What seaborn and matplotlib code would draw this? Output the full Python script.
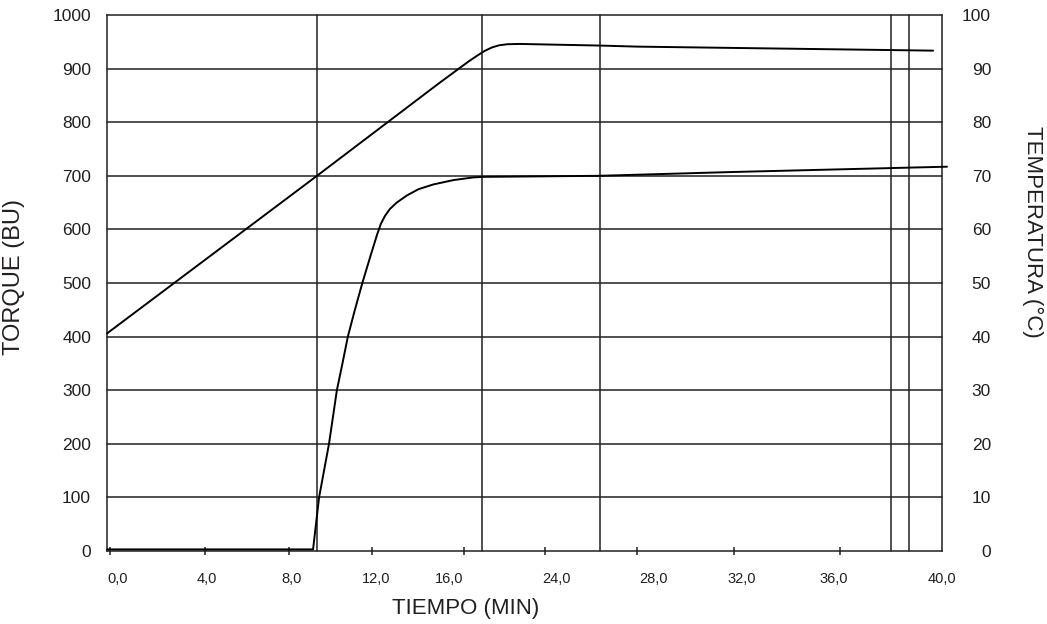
import matplotlib
matplotlib.use('Agg')
import matplotlib.pyplot as plt
import pandas as pd
import seaborn as sns

# tiempo on the chart's own scale (0..40 across the frame)
t_torque = [-0.14, 9.81, 10.10, 10.34, 10.58, 10.77, 10.96, 11.23, 11.49, 11.83,
            12.19, 12.58, 12.90, 13.08, 13.28, 13.52, 13.85, 14.33, 14.90,
            15.63, 16.59, 17.55, 17.98, 23.65, 30.0, 40.43]
torque = [3, 3, 100, 150, 200, 250, 300, 350, 400, 450,
          500, 550, 590, 610, 625, 638, 650, 663, 675,
          684, 692, 697, 698, 700, 707, 717]

t_temp = [-0.14, 10.0, 15.87, 17.31, 17.75, 18.1, 18.45, 18.8, 19.2, 19.8, 23.64, 25.48, 39.76]
temp = [40.6, 70.0, 87.2, 91.3, 92.45, 93.3, 93.95, 94.35, 94.55, 94.6, 94.3, 94.1, 93.35]

tick_marks = [0.0, 4.60, 8.65, 12.64, 17.12, 21.01, 25.48, 30.14, 35.24]
label_pos = [0.38, 4.66, 8.75, 12.86, 16.39, 21.56, 26.25, 30.53, 34.95, 40.19]
x_labels = ['0,0', '4,0', '8,0', '12,0', '16,0', '24,0', '28,0', '32,0', '36,0', '40,0']
v_grid = [10.0, 17.98, 23.65, 37.74, 38.61]

torque_ticks = list(range(0, 1001, 100))
temp_ticks = list(range(0, 101, 10))

df_torque = pd.DataFrame({'t': t_torque, 'torque': torque})
df_temp = pd.DataFrame({'t': t_temp, 'temp': temp})

sns.set_style('white')
plt.rcParams['font.family'] = ['Liberation Sans', 'DejaVu Sans']
ink = '#231f20'

fig = plt.figure(figsize=(10.47, 6.24), dpi=100)
ax = fig.add_axes([107 / 1047, (624 - 551) / 624, 835 / 1047, 536 / 624])
ax2 = ax.twinx()

for s in ax.spines.values():
    s.set_color(ink)
    s.set_linewidth(1.1)
for s in ax2.spines.values():
    s.set_visible(False)

ax.set_xlim(-0.144, 40.0)
ax.set_ylim(0, 1000)
ax2.set_ylim(0, 100)

# grid
for y in torque_ticks[1:-1]:
    ax.axhline(y, color=ink, lw=1.1, zorder=1)
for x in v_grid:
    ax.axvline(x, color=ink, lw=1.1, zorder=1)

sns.lineplot(data=df_torque, x='t', y='torque', ax=ax, color='black', lw=1.4,
             sort=False, zorder=3)
sns.lineplot(data=df_temp, x='t', y='temp', ax=ax2, color='black', lw=1.4,
             sort=False, zorder=3)
for ln in ax.lines + ax2.lines:
    ln.set_clip_on(False)
    ln.set_solid_joinstyle('round')

# x axis: tick marks and labels a bit apart, as in the original
ax.set_xticks(label_pos)
ax.set_xticklabels(x_labels, fontsize=10.5, color=ink)
ax.set_xticks(tick_marks, minor=True)
ax.tick_params(axis='x', which='major', length=0, pad=15)
ax.tick_params(axis='x', which='minor', direction='inout', length=5.5, width=1.1,
               color=ink, bottom=True)

ax.set_yticks(torque_ticks)
ax.set_yticklabels([str(v) for v in torque_ticks], fontsize=12.5, color=ink)
ax.tick_params(axis='y', length=0, pad=11.5)

ax2.set_yticks(temp_ticks)
ax2.set_yticklabels([str(v) for v in temp_ticks], fontsize=12.5, color=ink, ha='right')
ax2.tick_params(axis='y', length=0, pad=35.3)

ax.set_xlabel('TIEMPO (MIN)', fontsize=16, color=ink)
ax.xaxis.set_label_coords(0.43, -0.087)
ax.set_ylabel('TORQUE (BU)', fontsize=17, color=ink)
ax.yaxis.set_label_coords(-0.098, 0.511)
ax2.set_ylabel('TEMPERATURA (°C)', fontsize=16, color=ink, rotation=270, va='center')
ax2.yaxis.set_label_coords(1.108, 0.596)

fig.savefig('out.png', dpi=100)
